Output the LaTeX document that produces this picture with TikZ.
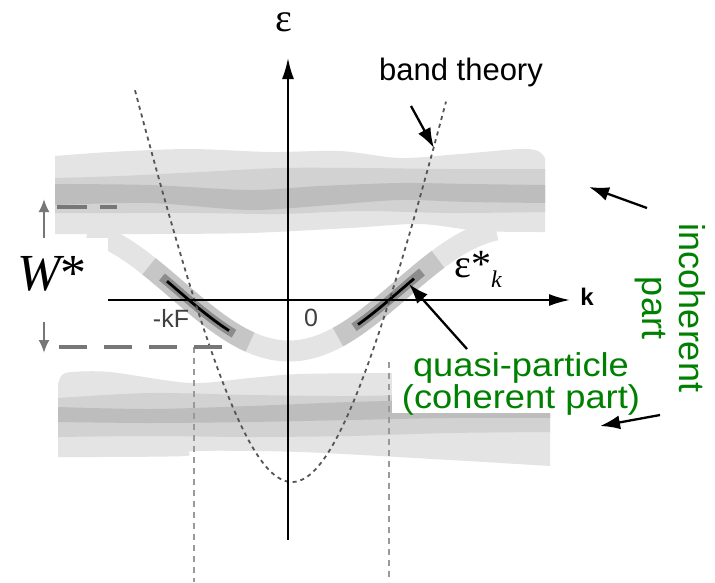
\documentclass[tikz,border=0pt]{standalone}
\usepackage{fontspec}
\setmainfont{Liberation Sans}
\newfontfamily\serf{Liberation Serif}
\usetikzlibrary{arrows.meta}
\definecolor{bandA}{HTML}{E4E4E4}
\definecolor{bandB}{HTML}{D2D2D2}
\definecolor{bandC}{HTML}{BDBDBD}
\definecolor{qplight}{HTML}{E4E4E4}
\definecolor{qpmid}{HTML}{C6C6C6}
\definecolor{qpdark}{HTML}{8C8C8C}
\definecolor{wgray}{HTML}{777777}
\definecolor{vgray}{HTML}{999999}
\definecolor{pgray}{HTML}{555555}
\definecolor{textgreen}{HTML}{008000}
\definecolor{labgray}{HTML}{404040}
\tikzset{
  blkarrow/.style={draw=black, line width=2.3pt, -{Latex[length=20pt,width=14pt]}},
  axisline/.style={draw=black, line width=2pt, -{Latex[length=21pt,width=12pt]}},
  warrow/.style={draw=wgray, line width=2pt, -{Latex[length=13pt,width=11pt]}},
  wdash/.style={draw=wgray, line width=4pt, dash pattern=on 28pt off 17pt},
  vdash/.style={draw=vgray, line width=2.5pt, dash pattern=on 6pt off 5pt},
  pdash/.style={draw=pgray, line width=1.8pt, dash pattern=on 4pt off 4pt},
  greentext/.style={text=textgreen, font=\fontsize{36}{36}\selectfont, inner sep=0pt},
  qptext/.style={text=textgreen, font=\fontsize{33}{33}\selectfont, inner sep=0pt},
  qpband/.style={line width=#1, line cap=butt},
}
\begin{document}
\begin{tikzpicture}[x=1pt,y=-1pt,
  declare function={qp(\x)=351-61.4*(1-cos(deg(1.4*(\x-289)/100)));
                    pb(\x)=482+100*(4.217-sqrt(17.78+19.63*((\x-292)/100)^2));}]
\useasboundingbox (0,0) rectangle (715,582);
\fill[white] (0,0) rectangle (715,582);

% upper incoherent band
\fill[bandA] plot[smooth,tension=0.5] coordinates {(55,156)(110,152)(190,149)(270,152)(340,151)(400,158)(460,154)(520,149)(538,151)(545,158)}
  -- (545,232) -- plot[smooth,tension=0.5] coordinates {(545,232)(480,231)(420,224)(350,228)(250,233)(150,234)(55,234)} -- cycle;
\fill[bandB] plot[smooth,tension=0.5] coordinates {(55,178)(120,176)(200,172)(280,168)(360,168)(450,169)(545,169)}
  -- (545,212) -- plot[smooth,tension=0.5] coordinates {(545,212)(450,213)(360,211)(280,214)(200,213)(120,213)(55,213)} -- cycle;
\fill[bandC] plot[smooth,tension=0.5] coordinates {(55,184)(150,185)(250,190)(320,186)(400,183)(470,184)(545,185)}
  -- (545,203) -- plot[smooth,tension=0.5] coordinates {(545,203)(470,202)(400,200)(330,205)(250,210)(150,203)(55,205)} -- cycle;

% lower incoherent band
\fill[bandA] plot[smooth,tension=0.5] coordinates {(58,384)(62,375)(72,372)(110,372)(190,383)(250,378)(300,374)(400,373)(550,372)}
  -- (550,466) -- plot[smooth,tension=0.5] coordinates {(550,466)(450,460)(300,452)(195,451)(185,456)(100,457)(58,457)} -- cycle;
\fill[bandB] plot[smooth,tension=0.5] coordinates {(58,398)(150,393)(250,395)(350,396)(450,394)(550,392)}
  -- (550,432) -- plot[smooth,tension=0.5] coordinates {(550,432)(450,433)(350,436)(250,437)(150,436)(58,437)} -- cycle;
\fill[bandC] plot[smooth,tension=0.5] coordinates {(58,407)(150,409)(250,406)(350,402)(450,400)(550,401)}
  -- (550,418) -- plot[smooth,tension=0.5] coordinates {(550,418)(450,418)(350,420)(250,422)(150,423)(58,422)} -- cycle;

% quasi-particle band
\draw[qpband=21pt, qplight] plot[domain=88:496, samples=90, smooth] (\x,{qp(\x)});
\draw[qpband=21pt, qpmid] plot[domain=149:250, samples=30, smooth] (\x,{qp(\x)});
\draw[qpband=21pt, qpmid] plot[domain=338:438, samples=30, smooth] (\x,{qp(\x)});
\draw[qpband=9pt, qpdark] plot[domain=162:234, samples=30, smooth] (\x,{qp(\x)});
\draw[qpband=9pt, qpdark] plot[domain=354:422, samples=30, smooth] (\x,{qp(\x)});
\draw[qpband=2.8pt, black] plot[domain=167:229, samples=30, smooth] (\x,{qp(\x)});
\draw[qpband=2.8pt, black] plot[domain=358:414, samples=30, smooth] (\x,{qp(\x)});

% white label boxes
\fill[white] (0,238) rectangle (108,318);
\fill[white] (392,335) rectangle (648,413);

% vertical dashed lines at +-kF
\coordinate (vl1) at (194,347); \coordinate (vl2) at (194,582);
\coordinate (vr1) at (389,362); \coordinate (vr2) at (389,582);
\draw[vdash] (vl1) -- (vl2);
\draw[vdash] (vr1) -- (vr2);

% band theory dispersion
\draw[pdash] plot[domain=135:446, samples=90, smooth] (\x,{pb(\x)});

% axes
\coordinate (vb) at (288,540); \coordinate (vt) at (288,58);
\coordinate (hl) at (108,300); \coordinate (hr) at (570,300);
\draw[axisline] (vb) -- (vt);
\draw[axisline] (hl) -- (hr);

% axis labels
\node[font=\serf\fontsize{40}{40}\selectfont, inner sep=0pt] (eps) at (284,22) {ε};
\node[font=\bfseries\fontsize{24}{24}\selectfont, inner sep=0pt] (klab) at (587,297) {k};
\node[text=labgray, font=\fontsize{25}{25}\selectfont, inner sep=0pt] (kf) at (171,318) {-kF};
\node[text=labgray, font=\fontsize{25}{25}\selectfont, inner sep=0pt] (zero) at (311,318) {0};

% band theory label + arrow
\node[font=\fontsize{31}{31}\selectfont, anchor=base, inner sep=0pt] (bt) at (461,80) {band theory};
\coordinate (bta) at (411,106); \coordinate (btb) at (434,148);
\draw[blkarrow] (bta) -- (btb);

% epsilon*_k label
\node[font=\serf\fontsize{40}{40}\selectfont, anchor=base west, inner sep=0pt] (ek) at (454,277) {ε*\raisebox{-10pt}{\fontsize{24}{24}\selectfont\itshape k}};

% W* label and gadgets
\node[font=\serf\fontsize{52}{52}\selectfont, anchor=base west, inner sep=0pt] (W) at (17,290) {\itshape W\upshape *};
\coordinate (wu1) at (44,238); \coordinate (wu2) at (44,199);
\coordinate (wd1) at (44,322); \coordinate (wd2) at (44,353);
\draw[warrow] (wu1) -- (wu2);
\draw[warrow] (wd1) -- (wd2);
\coordinate (wt1) at (57,207); \coordinate (wt2) at (117,207);
\coordinate (wb1) at (59,347); \coordinate (wb2) at (223,347);
\draw[wdash, dash pattern=on 30pt off 13pt] (wt1) -- (wt2);
\draw[wdash] (wb1) -- (wb2);

% quasi-particle label + arrow
\node[qptext, anchor=base] (qp1) at (521,376) {\scalebox{1.1}[1]{quasi-particle}};
\node[qptext, anchor=base] (qp2) at (521,408) {\scalebox{1.1}[1]{(coherent part)}};
\coordinate (qa) at (467,349); \coordinate (qb) at (409,284);
\draw[blkarrow] (qa) -- (qb);

% incoherent label + arrows
\node[greentext, rotate=-90] (inc) at (692,308) {incoherent};
\node[greentext, rotate=-90] (part) at (650,308) {part};
\coordinate (ia1) at (647,208); \coordinate (ia2) at (589,187);
\coordinate (ib1) at (660,415); \coordinate (ib2) at (600,426);
\draw[blkarrow] (ia1) -- (ia2);
\draw[blkarrow] (ib1) -- (ib2);
\end{tikzpicture}
\end{document}
